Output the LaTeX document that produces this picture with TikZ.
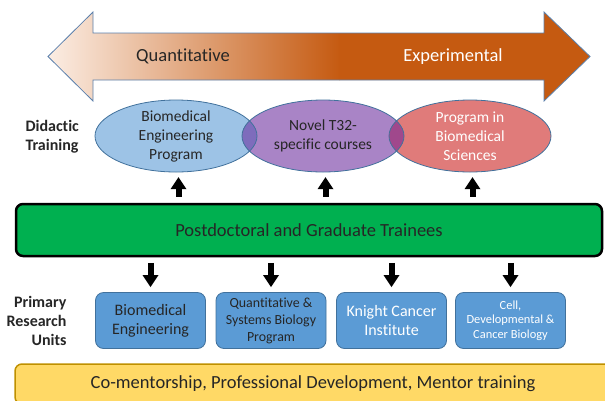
\documentclass[tikz,border=0pt]{standalone}
\usepackage{fontspec}
\setmainfont{Carlito}[Ligatures=NoCommon]
\usepackage{xcolor}
\usepackage{tikz}
\usetikzlibrary{calc}
\usetikzlibrary{positioning}
\usetikzlibrary{arrows.meta}
\usetikzlibrary{shapes}

\definecolor{peach}{HTML}{FCEFE6}
\definecolor{burnt}{HTML}{C55A11}
\definecolor{shapeline}{HTML}{41719C}
\definecolor{arrline}{HTML}{5B80AC}
\definecolor{bmeblue}{HTML}{9DC3E6}
\definecolor{t32purple}{HTML}{A984C6}
\definecolor{pbsred}{HTML}{E07B7A}
\definecolor{ovlblue}{HTML}{7E6CBC}
\definecolor{ovlred}{HTML}{A0488C}
\definecolor{traineegreen}{HTML}{00B050}
\definecolor{unitblue}{HTML}{5B9BD5}
\definecolor{mentoryellow}{HTML}{FFD966}
\definecolor{mentorline}{HTML}{BF9000}
\definecolor{textdark}{HTML}{262626}

\begin{document}
\begin{tikzpicture}[x=1pt,y=-1pt,text=textdark,
      ell style/.style={ellipse,minimum width=162pt,minimum height=72pt,
        inner sep=0pt},
      ell text/.style={align=center,font=\fontsize{15.5}{19}\selectfont},
      side label/.style={font=\fontsize{16}{19}\selectfont\bfseries},
      unit style/.style={rectangle,rounded corners=8pt,fill=unitblue,
        draw=shapeline,line width=0.8pt,minimum width=110pt,
        minimum height=56pt,align=center,inner sep=2pt},
      blockarrow/.style={line width=6pt,
        -{Triangle[length=12pt,width=16pt,line width=0pt]}}
      ]
      \useasboundingbox (0,0) rectangle (605,400);

      % double arrow Quantitative <-> Experimental
      \def\scalepath{(48,56.5) -- (93,12) -- (93,33) -- (544,33) -- (544,12)
        -- (590,56.5) -- (544,101) -- (544,80) -- (93,80) -- (93,101) -- cycle}
      \begin{scope}
        \clip \scalepath;
        \shade[left color=peach,right color=burnt] (45,0) rectangle (340,110);
        \fill[burnt] (339,0) rectangle (600,110);
      \end{scope}
      \draw[arrline,line width=0.8pt] \scalepath;
      \node[font=\fontsize{18.5}{22}\selectfont] (quant) at (183,56.5) {Quantitative};
      \node[font=\fontsize{18.5}{22}\selectfont,text=white] (exper) at (453,56.5) {Experimental};

      % didactic training
      \node[ell style,fill=bmeblue] (bme) at (176,136) {};
      \node[ell style,fill=t32purple] (t32) at (323,136) {};
      \node[ell style,fill=pbsred] (pbs) at (470,136) {};
      \begin{scope}
        \clip (bme.center) ellipse [x radius=81pt,y radius=36pt];
        \fill[ovlblue] (t32.center) ellipse [x radius=81pt,y radius=36pt];
      \end{scope}
      \begin{scope}
        \clip (t32.center) ellipse [x radius=81pt,y radius=36pt];
        \fill[ovlred] (pbs.center) ellipse [x radius=81pt,y radius=36pt];
      \end{scope}
      \foreach \e in {bme,t32,pbs}
        \draw[shapeline,line width=0.8pt] (\e.center) ellipse [x radius=81pt,y radius=36pt];
      \node[ell text] (bmetext) at (bme) {Biomedical\\Engineering\\Program};
      \node[ell text] (t32text) at (t32) {Novel T32-\\specific courses};
      \node[ell text,text=white] (pbstext) at (pbs) {Program in\\Biomedical\\Sciences};
      \node[side label,align=left,anchor=west] (didactic) at (22,137) {Didactic\\Training};

      % trainees
      \node[rectangle,rounded corners=7pt,draw=black,line width=2.5pt,
        fill=traineegreen,minimum width=586pt,minimum height=52pt,
        font=\fontsize{18.5}{22}\selectfont] (trainees) at (309,230)
        {Postdoctoral and Graduate Trainees};

      % research units
      \node[unit style,font=\fontsize{16}{19}\selectfont] (bmeunit) at (150.5,320.5)
        {Biomedical\\Engineering};
      \node[unit style,font=\fontsize{13.9}{17}\selectfont] (qsbunit) at (271,320.5)
        {Quantitative \&\\Systems Biology\\Program};
      \node[unit style,font=\fontsize{16}{19}\selectfont,text=white] (kciunit) at (391.5,320.5)
        {Knight Cancer\\Institute};
      \node[unit style,font=\fontsize{12.4}{14.5}\selectfont,text=white] (cdcbunit) at (510.5,320.5)
        {Cell,\\Developmental \&\\Cancer Biology};
      \node[side label,align=right,anchor=east] (primary) at (70,321)
        {Primary\\Research\\Units};

      % mentoring
      \node[rectangle,rounded corners=7pt,draw=mentorline,line width=1.5pt,
        fill=mentoryellow,minimum width=596pt,minimum height=40pt,
        font=\fontsize{18.5}{22}\selectfont] (mentor) at (313,384)
        {Co-mentorship, Professional Development, Mentor training};

      % arrows
      \foreach \e in {bme,t32,pbs}
        \draw[blockarrow,shorten <=6pt,shorten >=5pt]
          ($(trainees.north -| \e.south)+(2.5,0)$) -- ($(\e.south)+(2.5,0)$);
      \foreach \u in {bmeunit,qsbunit,kciunit,cdcbunit}
        \draw[blockarrow,shorten <=5.5pt,shorten >=5pt]
          (trainees.south -| \u.north) -- (\u.north);

    \end{tikzpicture}
\end{document}
